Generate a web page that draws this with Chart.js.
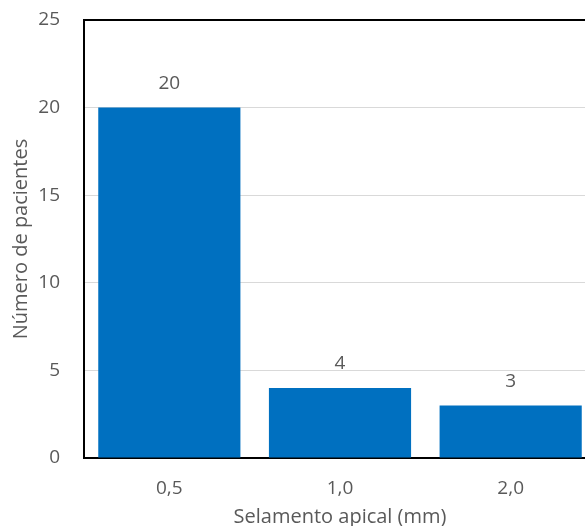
<!DOCTYPE html>
<html><head><meta charset="utf-8">
<script src="https://cdn.jsdelivr.net/npm/chart.js@4"></script>
<style>
html,body{margin:0;padding:0;overflow:hidden;background:#fff;width:585px;height:526px;}
#wrap{width:600px;height:526px;position:relative;}
</style></head>
<body><div id="wrap"><canvas id="c" width="600" height="526"></canvas></div>
<script>
const categories = ["0,5", "1,0", "2,0"];
const patients = [20, 4, 3];
const yTicks = [0, 5, 10, 15, 20, 25];
const xTitle = "Selamento apical (mm)";
const yTitle = "Número de pacientes";

const FONT = "'Open Sans', sans-serif";
const TXT = "#595959";
const FS = 19;
const TFS = 20;

const overlay = {
  id: 'overlay',
  afterDatasetsDraw(chart) {
    const {ctx, chartArea: a} = chart;
    ctx.save();
    ctx.strokeStyle = '#000'; ctx.lineWidth = 2;
    ctx.beginPath(); ctx.moveTo(a.left - 1, a.top); ctx.lineTo(a.right + 5, a.top); ctx.stroke();
    ctx.fillStyle = TXT; ctx.font = FS + "px " + FONT; ctx.textAlign = 'center'; ctx.textBaseline = 'middle';
    const meta = chart.getDatasetMeta(0);
    meta.data.forEach((bar, i) => {
      ctx.fillText(String(patients[i]), bar.x, bar.y - 24);
    });
    ctx.font = TFS + "px " + FONT;
    ctx.fillText(xTitle, (a.left + a.right) / 2, 517);
    ctx.translate(21, (a.top + a.bottom) / 2);
    ctx.rotate(-Math.PI / 2);
    ctx.fillText(yTitle, 0, 0);
    ctx.restore();
  }
};

new Chart(document.getElementById('c'), {
  type: 'bar',
  data: {
    labels: categories,
    datasets: [{
      data: patients,
      backgroundColor: '#0070C0',
      barPercentage: 0.833,
      categoryPercentage: 1.0
    }]
  },
  options: {
    responsive: false,
    animation: false,
    devicePixelRatio: 1,
    layout: { padding: { top: 20, right: 4, left: 0, bottom: 0 } },
    plugins: { legend: { display: false }, tooltip: { enabled: false } },
    scales: {
      x: {
        grid: { display: false, drawTicks: false },
        border: { display: true, color: '#000', width: 2 },
        ticks: { color: TXT, font: { family: FONT, size: FS }, padding: 19 },
        afterFit(s) { s.height = 68; s.paddingLeft = 0; s.paddingRight = 0; }
      },
      y: {
        min: 0, max: 25,
        afterBuildTicks(s) { s.ticks = yTicks.map(v => ({ value: v })); },
        grid: { color: '#D9D9D9', lineWidth: 1, drawTicks: false },
        border: { display: true, color: '#000', width: 2 },
        ticks: { color: TXT, font: { family: FONT, size: FS }, padding: 24 },
        afterFit(s) { s.width = 84; s.paddingTop = 0; s.paddingBottom = 0; }
      }
    }
  },
  plugins: [overlay]
});
</script></body></html>
